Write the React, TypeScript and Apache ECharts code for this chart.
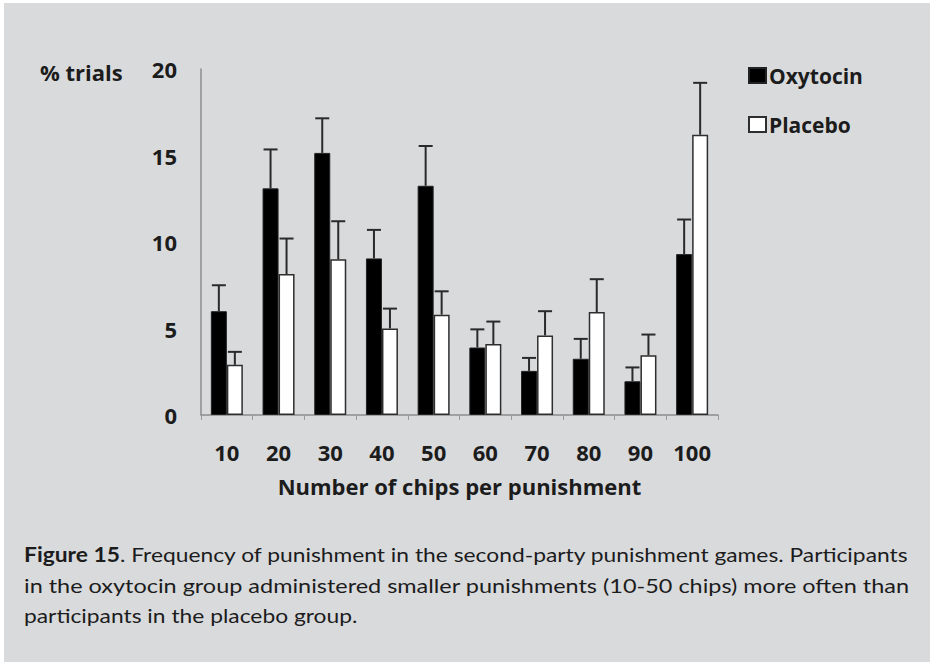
import React, { useEffect, useRef } from "react";
import * as echarts from "echarts";

const categories = ["10", "20", "30", "40", "50", "60", "70", "80", "90", "100"];
const oxytocin = [6.0, 13.1, 15.15, 9.05, 13.25, 3.9, 2.55, 3.25, 1.95, 9.3];
const oxytocinErr = [1.5, 2.25, 2.0, 1.65, 2.3, 1.05, 0.75, 1.15, 0.8, 2.0];
const placebo = [2.9, 8.15, 9.0, 5.0, 5.8, 4.1, 4.6, 5.95, 3.45, 16.2];
const placeboErr = [0.75, 2.05, 2.2, 1.15, 1.35, 1.3, 1.4, 1.9, 1.2, 3.0];
const yTicks = { min: 0, max: 20, interval: 5 };

const captionLines = [
  { bold: "Figure 15", rest: ". Frequency of punishment in the second-party punishment games. Participants", justify: true },
  { bold: "", rest: "in the oxytocin group administered smaller punishments (10-50 chips) more often than", justify: true },
  { bold: "", rest: "participants in the placebo group.", justify: false },
];

const BAR_W = 16;
const TEXT = "#1c1c1c";
const CHART_FONT = "'Open Sans', 'DejaVu Sans', sans-serif";
const CAP_FONT = "Lato, 'Noto Sans', sans-serif";

function measure(text: string, font: string): number {
  const c = document.createElement("canvas").getContext("2d");
  if (!c) return text.length * 10;
  c.font = font;
  return c.measureText(text).width;
}

export default function App() {
  const ref = useRef<HTMLDivElement>(null);
  useEffect(() => {
    document.body.style.margin = "0";
    if (!ref.current) return;
    const chart = echarts.init(ref.current, undefined, { renderer: "svg" });

    const errSeries = (name: string, vals: number[], errs: number[], offset: number) => ({
      type: "custom",
      name,
      z: 5,
      data: vals.map((v, i) => [i, v, errs[i]]),
      encode: { x: 0, y: 1 },
      renderItem: (params: any, api: any) => {
        const idx = api.value(0);
        const v = api.value(1);
        const e = api.value(2);
        const base = api.coord([idx, v]);
        const top = api.coord([idx, v + e]);
        const x = base[0] + offset;
        const st = { stroke: "#2a2a2a", lineWidth: 2 };
        return {
          type: "group",
          children: [
            { type: "line", shape: { x1: x, y1: base[1], x2: x, y2: top[1] }, style: st },
            { type: "line", shape: { x1: x - 7, y1: top[1], x2: x + 7, y2: top[1] }, style: st },
          ],
        };
      },
    });

    const capSize = 20;
    const capLineH = 30.5;
    const capX = 24;
    const capTarget = 886;
    const widths = captionLines.map(
      (ln) =>
        measure(ln.bold, `bold ${capSize}px ${CAP_FONT}`) +
        measure(ln.rest, `${capSize}px ${CAP_FONT}`)
    );
    const baseScale = capTarget / widths[0];
    const captionEls = captionLines.map((ln, i) => {
      const sx = ln.justify ? capTarget / widths[i] : baseScale;
      const text = ln.bold ? `{b|${ln.bold}}{r|${ln.rest}}` : `{r|${ln.rest}}`;
      return {
        type: "text",
        x: capX,
        y: 555 + i * capLineH,
        scaleX: sx,
        style: {
          text,
          fill: TEXT,
          verticalAlign: "middle",
          align: "left",
          rich: {
            b: { fontFamily: CAP_FONT, fontSize: capSize, fontWeight: "bold", fill: TEXT },
            r: { fontFamily: CAP_FONT, fontSize: capSize, fill: TEXT },
          },
        },
      };
    });

    chart.setOption({
      animation: false,
      backgroundColor: "#ffffff",
      grid: { left: 201, right: 212, top: 69, bottom: 247, containLabel: false },
      legend: {
        data: ["Oxytocin", "Placebo"],
        orient: "vertical",
        left: 743,
        top: 60,
        icon: "rect",
        itemWidth: 17,
        itemHeight: 15,
        itemGap: 28,
        textStyle: { fontFamily: CHART_FONT, fontSize: 21, fontWeight: "bold", color: TEXT, padding: [0, 0, 0, -2] },
      },
      xAxis: {
        type: "category",
        data: categories,
        axisLine: { lineStyle: { color: "#8c8c8c", width: 1.5 } },
        axisTick: { show: true, length: 5, lineStyle: { color: "#9a9a9a" } },
        axisLabel: { fontFamily: CHART_FONT, fontSize: 22, fontWeight: "bold", color: TEXT, margin: 26 },
        name: "Number of chips per punishment",
        nameLocation: "middle",
        nameGap: 60,
        nameTextStyle: { fontFamily: CHART_FONT, fontSize: 22, fontWeight: "bold", color: TEXT },
      },
      yAxis: {
        type: "value",
        min: yTicks.min,
        max: yTicks.max,
        interval: yTicks.interval,
        axisLine: { show: true, lineStyle: { color: "#8c8c8c", width: 1.5 } },
        axisTick: { show: false },
        splitLine: { show: false },
        axisLabel: { fontFamily: CHART_FONT, fontSize: 22, fontWeight: "bold", color: TEXT, margin: 24 },
      },
      graphic: [
        { type: "rect", z: -10, silent: true, shape: { x: 4, y: 3, width: 926, height: 659 }, style: { fill: "#d9dadc" } },
        {
          type: "text",
          x: 40,
          y: 72,
          style: { text: "% trials", fontFamily: CHART_FONT, fontSize: 22, fontWeight: "bold", fill: TEXT, verticalAlign: "middle" },
        },
        ...captionEls,
      ],
      series: [
        {
          type: "bar",
          name: "Oxytocin",
          data: oxytocin,
          barWidth: BAR_W,
          barGap: "0%",
          itemStyle: { color: "#000000", borderColor: "#222222", borderWidth: 1 },
        },
        {
          type: "bar",
          name: "Placebo",
          data: placebo,
          barWidth: BAR_W,
          barGap: "0%",
          itemStyle: { color: "#ffffff", borderColor: "#2e2e2e", borderWidth: 1.5 },
        },
        errSeries("oxyErr", oxytocin, oxytocinErr, -BAR_W / 2),
        errSeries("plcErr", placebo, placeboErr, BAR_W / 2),
      ],
    });
    return () => chart.dispose();
  }, []);
  return <div ref={ref} style={{ position: "absolute", left: 0, top: 0, width: 930, height: 662 }} />;
}
